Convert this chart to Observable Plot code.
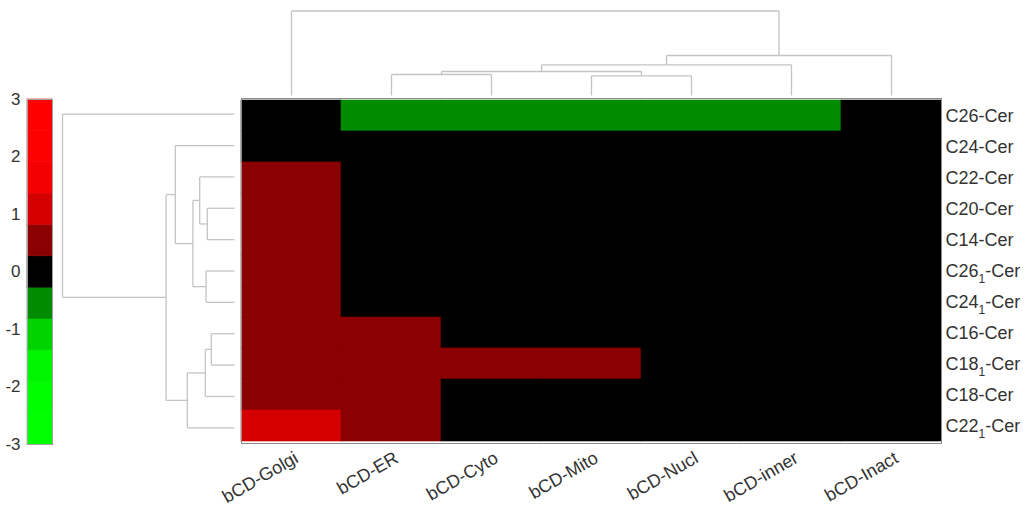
<!DOCTYPE html>
<html>
<head>
<meta charset="utf-8">
<script src="https://cdn.jsdelivr.net/npm/d3@7"></script>
<script src="https://cdn.jsdelivr.net/npm/@observablehq/plot@0.6"></script>
<style>
  body { margin: 0; background: #fff; }
  #fig { position: relative; width: 1026px; height: 517px; background: #fff;
         font-family: "Liberation Sans", Arial, Helvetica, sans-serif; }
  #fig > svg { position: absolute; left: 0; top: 0; }
</style>
</head>
<body>
<div id="fig"></div>
<script>
// Samples (columns) and ceramide species (rows), in clustered display order
const samples = ["bCD-Golgi", "bCD-ER", "bCD-Cyto", "bCD-Mito", "bCD-Nucl", "bCD-inner", "bCD-Inact"];
const species = ["C26-Cer", "C24-Cer", "C22-Cer", "C20-Cer", "C14-Cer", "C26₁-Cer",
                 "C24₁-Cer", "C16-Cer", "C18₁-Cer", "C18-Cer", "C22₁-Cer"];

// Standardized values, one row per species, columns in sample order
const rowC26  = [0,   -0.6, -0.6, -0.6, -0.6, -0.6, 0];
const rowC24  = [0,    0,    0,    0,    0,    0,   0];
const rowC22  = [0.6,  0,    0,    0,    0,    0,   0];
const rowC20  = [0.6,  0,    0,    0,    0,    0,   0];
const rowC14  = [0.6,  0,    0,    0,    0,    0,   0];
const rowC261 = [0.6,  0,    0,    0,    0,    0,   0];
const rowC241 = [0.6,  0,    0,    0,    0,    0,   0];
const rowC16  = [0.6,  0.6,  0,    0,    0,    0,   0];
const rowC181 = [0.6,  0.6,  0.6,  0.6,  0,    0,   0];
const rowC18  = [0.6,  0.6,  0,    0,    0,    0,   0];
const rowC221 = [1.1,  0.6,  0,    0,    0,    0,   0];
const values = [rowC26, rowC24, rowC22, rowC20, rowC14, rowC261, rowC241, rowC16, rowC181, rowC18, rowC221];

// Row linkage: [child a, child b, distance]; leaves 0..10, merged nodes numbered from 11
const rowLinks = [
  [7, 8, 0.58],
  [3, 4, 0.68],
  [5, 6, 0.71],
  [11, 9, 0.73],
  [2, 12, 0.87],
  [15, 13, 1.04],
  [14, 10, 1.18],
  [1, 16, 1.48],
  [18, 17, 1.71],
  [0, 19, 4.30]
];
// Column linkage: leaves 0..6, merged nodes numbered from 7
const colLinks = [
  [3, 4, 0.985],
  [1, 2, 1.05],
  [8, 7, 1.20],
  [9, 5, 1.535],
  [10, 6, 2.00],
  [0, 11, 4.225]
];

// Red-black-green colormap, 11 levels spanning -3..3
const cmap = ["#00ff00", "#00fd00", "#00f500", "#00d400", "#008b00", "#000000",
              "#8b0000", "#d40000", "#f50000", "#fd0000", "#ff0000"];
const climLow = -3, climHigh = 3;
const colorbarTicks = [-3, -2, -1, 0, 1, 2, 3];

// ---------------------------------------------------------------------------
const W = 1026, H = 517;
const textColor = "#333";
const labelFont = 18;
const thresholds = d3.range(1, cmap.length).map(i => climLow + (climHigh - climLow) * i / cmap.length);
const colorScale = {type: "threshold", domain: thresholds, range: cmap};

const cells = species.flatMap((s, i) => samples.map((c, j) => ({species: s, sample: c, value: values[i][j]})));

// Turn a linkage table into elbow segments (leaf positions at index + 0.5)
function dendroSegments(links, nLeaves) {
  const pos = d3.range(nLeaves).map(i => i + 0.5);
  const hgt = new Array(nLeaves).fill(0);
  const segs = [];
  for (const [a, b, d] of links) {
    segs.push({p1: pos[a], h1: hgt[a], p2: pos[a], h2: d});
    segs.push({p1: pos[b], h1: hgt[b], p2: pos[b], h2: d});
    segs.push({p1: pos[a], h1: d, p2: pos[b], h2: d});
    pos.push((pos[a] + pos[b]) / 2);
    hgt.push(d);
  }
  return segs;
}
const rowSegs = dendroSegments(rowLinks, species.length);
const colSegs = dendroSegments(colLinks, samples.length);
const rowMax = d3.max(rowLinks, d => d[2]);
const colMax = d3.max(colLinks, d => d[2]);

const overlay = "background: transparent; overflow: visible; font-family: 'Liberation Sans', Arial, sans-serif;";
const fig = document.getElementById("fig");

// Heatmap with row labels on the right and slanted sample labels below
const heat = Plot.plot({
  width: W, height: H,
  marginLeft: 241, marginRight: 85, marginTop: 98, marginBottom: 74,
  style: overlay,
  x: {domain: samples, padding: 0, axis: null},
  y: {domain: species, padding: 0, label: null},
  color: colorScale,
  marks: [
    Plot.cell(cells, {x: "sample", y: "species", fill: "value", stroke: "value", strokeWidth: 0.6, inset: 0}),
    Plot.frame({stroke: "#8c8c8c", strokeWidth: 1}),
    Plot.axisY({anchor: "right", tickSize: 0, tickPadding: 4, fontSize: labelFont, color: textColor, label: null}),
    Plot.text(samples, {x: d => d, frameAnchor: "bottom", rotate: -30, textAnchor: "end",
                        dx: 8, dy: 18, fontSize: labelFont, fill: textColor})
  ]
});
// Render the "₁" in species names as a lowered, smaller subscript
d3.select(heat).selectAll("text").each(function () {
  const t = this.textContent;
  if (!t.includes("₁")) return;
  const [head, tail] = t.split("₁");
  const sel = d3.select(this);
  sel.text(null);
  sel.append("tspan").text(head);
  sel.append("tspan").attr("dy", 6).attr("font-size", 12).text("1");
  sel.append("tspan").attr("dy", -6).text(tail);
});
fig.appendChild(heat);

// Row dendrogram on the left
const rowDendro = Plot.plot({
  width: W, height: H,
  marginLeft: 62, marginRight: W - 234, marginTop: 98, marginBottom: 74,
  style: overlay,
  x: {domain: [rowMax, 0], axis: null},
  y: {domain: [0, species.length], reverse: true, axis: null},
  marks: [
    Plot.link(rowSegs, {x1: "h1", y1: "p1", x2: "h2", y2: "p2", stroke: "#c4c4c4", strokeWidth: 1.3})
  ]
});
fig.appendChild(rowDendro);

// Column dendrogram on top
const colDendro = Plot.plot({
  width: W, height: H,
  marginLeft: 241, marginRight: 85, marginTop: 10.5, marginBottom: H - 95,
  style: overlay,
  x: {domain: [0, samples.length], axis: null},
  y: {domain: [0, colMax], axis: null},
  marks: [
    Plot.link(colSegs, {x1: "p1", y1: "h1", x2: "p2", y2: "h2", stroke: "#c4c4c4", strokeWidth: 1.3})
  ]
});
fig.appendChild(colDendro);

// Colour bar
const levels = cmap.map((c, i) => {
  const lo = climLow + (climHigh - climLow) * i / cmap.length;
  const hi = climLow + (climHigh - climLow) * (i + 1) / cmap.length;
  return {lo, hi, mid: (lo + hi) / 2};
});
const colorbar = Plot.plot({
  width: W, height: H,
  marginLeft: 27, marginRight: W - 52, marginTop: 99, marginBottom: H - 444,
  style: overlay,
  x: {domain: [0, 1], axis: null},
  y: {domain: [climLow, climHigh], label: null},
  color: colorScale,
  marks: [
    Plot.rect(levels, {x1: 0, x2: 1, y1: "lo", y2: "hi", fill: "mid", stroke: "mid", strokeWidth: 0.6}),
    Plot.frame({stroke: "#a0a0a0", strokeWidth: 1}),
    Plot.axisY({ticks: colorbarTicks, tickSize: 0, tickPadding: 7, fontSize: 17,
                color: textColor, label: null, tickFormat: d => String(d)})
  ]
});
fig.appendChild(colorbar);
</script>
</body>
</html>
